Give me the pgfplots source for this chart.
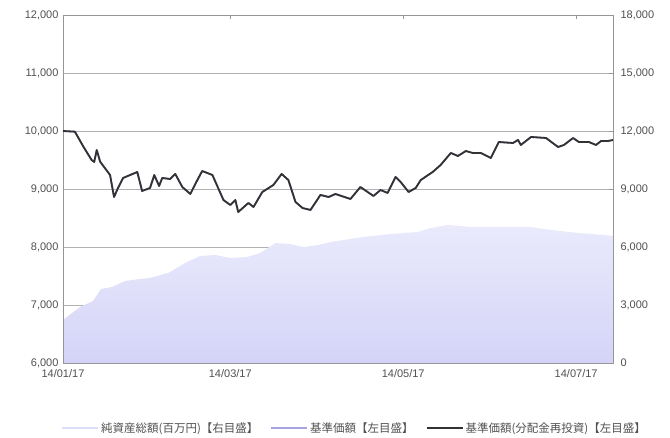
\documentclass[border=0pt]{standalone}
\usepackage{pgfplots}
\pgfplotsset{compat=1.18}
\usepackage{pgfplotstable}
\usepackage{fontspec}
\setmainfont{Liberation Sans}
\newfontfamily\jp{Noto Sans CJK JP}

\definecolor{gridgray}{RGB}{178,178,178}
\definecolor{axisgray}{RGB}{150,150,150}
\definecolor{labelgray}{RGB}{80,80,80}
\definecolor{lavtop}{RGB}{234,234,252}
\definecolor{lavbot}{RGB}{212,212,248}
\definecolor{lavleg}{RGB}{222,222,248}
\definecolor{navpurple}{RGB}{165,165,225}
\definecolor{navdark}{RGB}{50,50,50}

% day = days since 14/01/17
\pgfplotstableread{
day nav
0 10000
4.2 9988
7.2 9729
10.1 9500
11 9466
11.9 9672
13.1 9471
16.6 9241
18.0 8862
19.4 9017
21.2 9190
26.2 9293
27.9 8966
30.7 9017
32.2 9241
33.9 9052
35.0 9190
37.8 9172
39.6 9259
42.1 9034
44.9 8914
47.4 9155
49.1 9310
52.7 9241
56.6 8810
59.0 8724
60.8 8810
61.8 8603
65.4 8759
67.2 8690
70.3 8948
74.2 9069
77.1 9259
79.5 9155
82.0 8776
84.5 8672
87.3 8638
90.8 8897
93.7 8862
96.1 8914
101.4 8828
104.9 9034
109.5 8879
112.0 8983
114.5 8931
117.3 9207
119.1 9121
121.9 8948
124.4 9017
126.2 9155
130.4 9293
133.2 9414
136.8 9621
139.3 9569
142.1 9655
144.5 9621
147.4 9621
150.9 9534
153.7 9810
158.7 9793
160.5 9845
161.5 9759
165.1 9897
170.4 9879
174.6 9724
176.7 9759
179.9 9879
182.0 9810
185.5 9810
188.0 9759
189.8 9828
192.3 9828
194.0 9845
}\navtable

\pgfplotstableread{
day assets
0 2224
6 2896
10.6 3207
13.4 3827
17.3 3931
21.9 4241
27.2 4344
30.7 4396
37.1 4655
43.8 5224
48.4 5534
53.7 5586
59.0 5431
65.0 5482
69.6 5689
74.9 6206
80.2 6155
84.8 5999
90.1 6103
94.4 6258
106.0 6517
115.6 6672
125.1 6775
129.7 6982
135.7 7137
143.8 7034
153.4 7034
165.0 7034
172.1 6879
181.7 6724
190.9 6620
194.0 6568
}\assettable

\pgfplotsset{
  base/.style={
    scale only axis, width=550pt, height=348pt,
    at={(0,0)}, anchor=south west,
    xmin=0, xmax=194,
    scaled ticks=false,
    tick label style={font=\fontsize{11}{13}\selectfont, text=labelgray},
    /pgf/number format/assume math mode=true,
    /pgf/number format/1000 sep={,},
    axis line style={axisgray, line width=0.8pt},
  },
}

\begin{document}
\begin{tikzpicture}
% left scale, grid and labels
\begin{axis}[base, name=main,
  ymin=6000, ymax=12000, ytick={6000,7000,...,12000},
  ymajorgrids, grid style={gridgray, line width=0.6pt},
  ytick style={draw=none},
  xtick={0,59,120,181},
  xticklabels={14/01/17,14/03/17,14/05/17,14/07/17},
  xtick style={axisgray, line width=0.6pt},
  yticklabel style={xshift=-1pt},
  xticklabel style={yshift=-3pt},
]
\end{axis}
% right scale: net assets
\begin{axis}[base,
  ymin=0, ymax=18000, ytick={0,3000,...,18000},
  axis x line=none, axis y line*=right,
  ytick style={axisgray, line width=0.6pt},
  yticklabel style={xshift=4pt},
]
\addplot[draw=none, top color=lavtop, bottom color=lavbot] table[x=day, y=assets] {\assettable} \closedcycle;
\end{axis}
% left scale: NAV lines, box and legend
\begin{axis}[base,
  ymin=6000, ymax=12000,
  xtick=\empty, ytick=\empty,
  legend columns=3,
  legend style={draw=none, fill=none, at={(0.53,-0.187)}, anchor=center,
    font=\jp\fontsize{11.5}{13}\selectfont, text=labelgray,
    /tikz/every even column/.append style={column sep=10pt}},
  legend image code/.code={\draw[#1] (0pt,0pt) -- (36pt,0pt);},
]
\addlegendimage{lavleg, line width=2pt}
\addlegendentry{純資産総額(百万円)【右目盛】}
\addplot[navpurple, line width=1.8pt, line join=round] table[x=day, y=nav] {\navtable};
\addlegendentry{基準価額【左目盛】}
\addplot[navdark, line width=1.8pt, line join=round] table[x=day, y=nav] {\navtable};
\addlegendentry{基準価額(分配金再投資)【左目盛】}
\end{axis}
\path ([xshift=-63pt,yshift=-74pt]main.south west) rectangle ([xshift=57pt,yshift=15pt]main.north east);
\end{tikzpicture}
\end{document}
